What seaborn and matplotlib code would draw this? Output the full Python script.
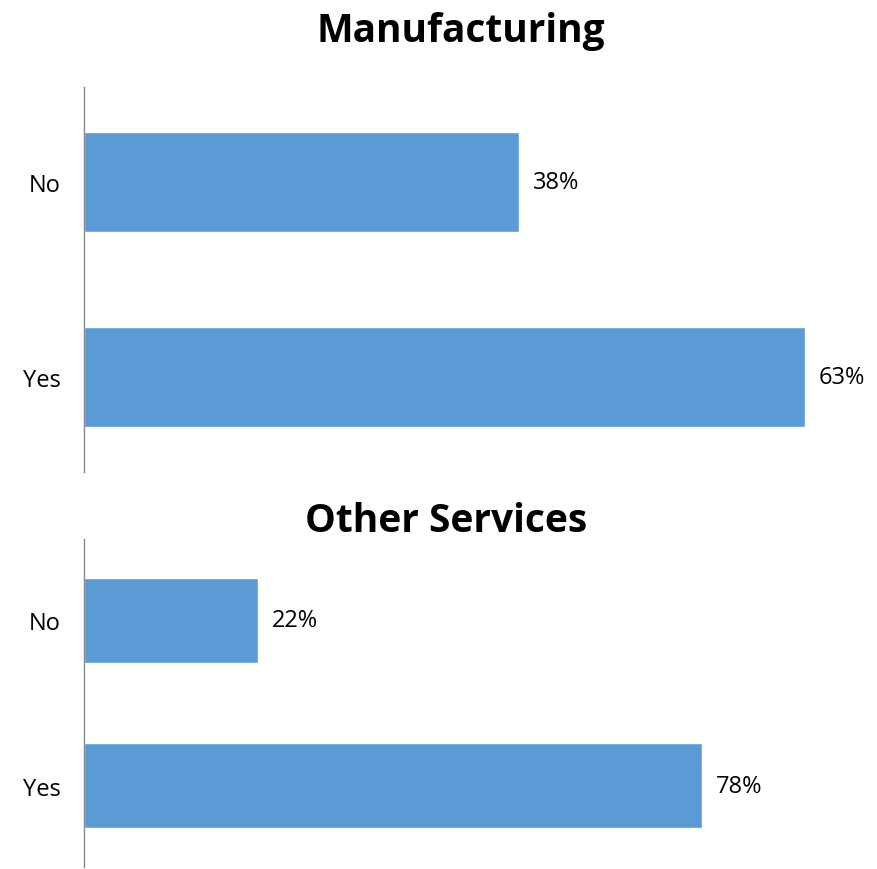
import matplotlib
matplotlib.use("Agg")
import matplotlib.pyplot as plt
import seaborn as sns
import pandas as pd

categories = ["No", "Yes"]
manufacturing = [38, 63]
other_services = [22, 78]
panel_titles = ["Manufacturing", "Other Services"]

sns.set_style("white")
plt.rcParams["font.family"] = ["Open Sans", "DejaVu Sans"]
plt.rcParams["text.color"] = "black"
plt.rcParams["ytick.color"] = "black"

bar_color = "#5B9BD5"

fig = plt.figure(figsize=(8.77, 8.70), dpi=100)
# axes placed to match the reference layout (figure fractions)
ax_top = fig.add_axes([0.0958, 0.4563, 0.8842, 0.4426])
ax_bot = fig.add_axes([0.0958, 0.0023, 0.8842, 0.3770])

panels = [
    (ax_top, manufacturing, 67.8, (0.5257, 0.9517)),
    (ax_bot, other_services, 97.8, (0.5086, 0.3885)),
]

for (ax, vals, xmax, tpos), title in zip(panels, panel_titles):
    df = pd.DataFrame({"answer": categories, "share": vals})
    sns.barplot(data=df, x="share", y="answer", orient="h", color=bar_color,
                saturation=1, width=0.515, ax=ax)
    ax.set_xlim(0, xmax)
    ax.set_ylim(1.49, -0.49)
    ax.set_xlabel("")
    ax.set_ylabel("")
    ax.set_xticks([])
    ax.tick_params(axis="y", length=0, pad=17, labelsize=17)
    for side in ["top", "right", "bottom"]:
        ax.spines[side].set_visible(False)
    ax.spines["left"].set_color("#888888")
    ax.spines["left"].set_linewidth(1)
    for i, v in enumerate(vals):
        ax.annotate(f"{v}%", xy=(v, i), xytext=(10, 0), textcoords="offset points",
                    ha="left", va="center", fontsize=17)
    fig.text(tpos[0], tpos[1], title, fontsize=28, fontweight="bold",
             ha="center", va="baseline")

fig.savefig("out.png", dpi=100)
